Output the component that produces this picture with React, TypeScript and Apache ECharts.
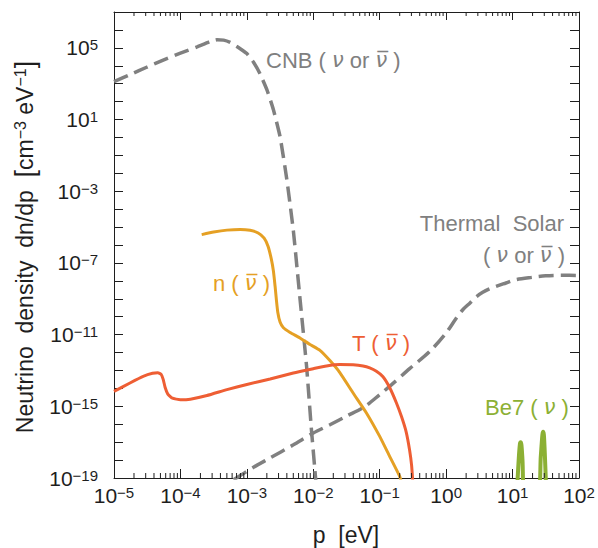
import React, { useEffect, useRef } from "react";
import * as echarts from "echarts";

// ---- data (p in eV, dn/dp in cm^-3 eV^-1) ----
const cnbP = [1.0e-5, 1.78e-5, 3.16e-5, 5.62e-5, 1.0e-4, 1.78e-4, 2.82e-4, 3.55e-4, 4.47e-4, 5.62e-4, 7.08e-4, 1.0e-3, 1.26e-3, 1.58e-3, 2.0e-3, 2.51e-3, 3.16e-3, 3.98e-3, 5.01e-3, 6.31e-3, 7.94e-3, 9.33e-3, 1.06e-2, 1.1e-2];
const cnbN = [1.29e3, 3.31e3, 8.51e3, 2.14e4, 5.01e4, 1.12e5, 2.24e5, 2.82e5, 2.69e5, 2.0e5, 1.2e5, 4.79e4, 1.58e4, 3.55e3, 4.68e2, 3.55e1, 1.12, 5.01e-3, 6.31e-6, 1.0e-9, 1.58e-13, 6.31e-17, 2.51e-19, 5.01e-20];

const nP = [2.09e-4, 3.16e-4, 5.01e-4, 7.94e-4, 1.12e-3, 1.48e-3, 1.82e-3, 2.09e-3, 2.34e-3, 2.51e-3, 2.66e-3, 2.79e-3, 2.92e-3, 3.16e-3, 3.55e-3, 4.47e-3, 6.31e-3, 8.91e-3, 1.26e-2, 1.78e-2, 2.51e-2, 3.98e-2, 6.31e-2, 1.0e-1, 1.41e-1, 2.0e-1, 2.14e-1];
const nN = [3.8e-6, 5.25e-6, 6.76e-6, 7.41e-6, 6.61e-6, 4.68e-6, 2.4e-6, 8.32e-7, 1.58e-7, 3.55e-8, 5.01e-9, 7.94e-10, 1.78e-10, 5.01e-11, 2.4e-11, 1.32e-11, 6.46e-12, 2.82e-12, 1.32e-12, 3.55e-13, 7.59e-14, 5.5e-15, 4.27e-16, 2.09e-17, 1.62e-18, 1.23e-19, 5.01e-20];

const tP = [1.0e-5, 1.74e-5, 2.75e-5, 3.8e-5, 4.57e-5, 5.13e-5, 5.5e-5, 5.89e-5, 6.46e-5, 7.59e-5, 1.0e-4, 1.41e-4, 2.51e-4, 5.01e-4, 1.0e-3, 2.24e-3, 5.01e-3, 1.0e-2, 1.58e-2, 2.51e-2, 3.98e-2, 5.62e-2, 7.08e-2, 8.91e-2, 1.12e-1, 1.41e-1, 1.78e-1, 2.14e-1, 2.51e-1, 2.82e-1, 3.02e-1, 3.16e-1];
const tN = [6.76e-15, 2.0e-14, 4.68e-14, 6.92e-14, 7.41e-14, 6.03e-14, 3.16e-14, 1.12e-14, 4.79e-15, 2.82e-15, 2.34e-15, 2.51e-15, 3.98e-15, 8.51e-15, 1.66e-14, 3.31e-14, 7.24e-14, 1.26e-13, 1.78e-13, 2.14e-13, 2.09e-13, 1.78e-13, 1.38e-13, 8.91e-14, 4.47e-14, 1.12e-14, 1.58e-15, 2.51e-16, 3.55e-17, 3.55e-18, 5.01e-19, 5.01e-20];

const solarP = [6.31e-4, 1.26e-3, 2.24e-3, 5.01e-3, 1.0e-2, 1.78e-2, 3.16e-2, 6.03e-2, 1.0e-1, 1.51e-1, 2.82e-1, 5.62e-1, 1.0, 1.41, 1.78, 2.29, 2.82, 3.55, 4.47, 5.62, 7.94, 11.2, 20.0, 31.6, 56.2, 100];
const solarN = [7.94e-20, 3.98e-19, 1.32e-18, 7.08e-18, 3.24e-17, 9.33e-17, 2.82e-16, 1.0e-15, 4.47e-15, 1.62e-14, 1.26e-13, 1.12e-12, 1.26e-11, 7.94e-11, 2.45e-10, 5.89e-10, 1.26e-9, 2.29e-9, 3.55e-9, 4.9e-9, 7.59e-9, 1.17e-8, 1.58e-8, 1.91e-8, 2.04e-8, 2.0e-8];

const be7P = [11.7, 12.4, 12.9, 13.2, 13.6, 14.1, 15.0, 24.5, 26.6, 28.1, 28.8, 29.6, 30.7, 32.0];
const be7N = [2.51e-20, 1.26e-18, 7.94e-18, 1.0e-17, 7.08e-18, 1.0e-18, 2.51e-20, 2.51e-20, 1.58e-18, 2.51e-17, 3.8e-17, 2.51e-17, 1.58e-18, 2.51e-20];

// axis decades (powers of ten)
const xDecades = [-5, -4, -3, -2, -1, 0, 1, 2];
const yLabelDecades = [-19, -15, -11, -7, -3, 1, 5];
const minorMultipliers = [2, 3, 4, 5, 6, 7, 8, 9];

const X_MIN = -5, X_MAX = 2, Y_MIN = -19, Y_MAX = 7;

const GRAY = "#808080";
const ORANGE = "#E5A024";
const RED = "#EE5E34";
const GREEN = "#8CB034";
const AX = "#1e1e1e";
const FONT = "Liberation Sans";
const NU_FONT = "DejaVu Sans";

const toLog = (ps: number[], ns: number[]) => ps.map((p, i) => [Math.log10(p), Math.log10(ns[i])]);

const supLabel = (v: number) => {
  const e = Math.round(v);
  return `{b|10}{s|${e < 0 ? "\u2212" + -e : e}}`;
};

const tickRich = {
  b: { fontSize: 21, lineHeight: 21, fontFamily: FONT, color: AX },
  s: { fontSize: 15, lineHeight: 15, verticalAlign: "top", fontFamily: FONT, color: AX },
};

const NU = "\u03BD";
const NUBAR = "\u03BD\u0305";

const nuRich = (c: string) => ({
  i: { fontStyle: "italic", fontSize: 21, fontFamily: NU_FONT, fill: c, color: c },
});

export default function App() {
  const ref = useRef<HTMLDivElement>(null);
  useEffect(() => {
    if (!ref.current) return;
    const chart = echarts.init(ref.current, undefined, { renderer: "svg" });

    const minorX: number[][] = [];
    xDecades.slice(0, -1).forEach((d) => minorMultipliers.forEach((m) => minorX.push([d + Math.log10(m), Y_MIN])));

    const lineBase = { type: "line", showSymbol: false, symbol: "none", silent: true, clip: true, smooth: 0.15 };
    const dashed = { color: GRAY, width: 3.5, type: [15, 7], cap: "butt" };

    const axisCommon = {
      type: "value",
      splitLine: { show: false },
      axisLine: { show: true, onZero: false, lineStyle: { color: AX, width: 1 } },
    };

    const option: any = {
      animation: false,
      backgroundColor: "#ffffff",
      grid: { left: 114, right: 19, top: 12, bottom: 70, containLabel: false, outerBoundsMode: "none" },
      xAxis: [
        {
          ...axisCommon, min: X_MIN, max: X_MAX, interval: 1, position: "bottom",
          axisTick: { show: true, inside: true, length: 9, lineStyle: { color: AX } },
          axisLabel: { show: true, margin: 7, formatter: supLabel, rich: tickRich, showMinLabel: true, showMaxLabel: true },
        },
        {
          ...axisCommon, min: X_MIN, max: X_MAX, interval: 1, position: "top",
          axisTick: { show: true, inside: true, length: 8, lineStyle: { color: AX } },
          axisLabel: { show: false },
        },
      ],
      yAxis: [
        {
          ...axisCommon, min: Y_MIN, max: Y_MAX, interval: 1, position: "left",
          axisTick: { show: true, inside: true, length: 9, lineStyle: { color: AX } },
          axisLabel: {
            show: true, margin: 16, rich: tickRich, showMinLabel: true, showMaxLabel: true,
            formatter: (v: number) => (yLabelDecades.includes(Math.round(v)) ? supLabel(v) : ""),
          },
        },
        {
          ...axisCommon, min: Y_MIN, max: Y_MAX, interval: 1, position: "right",
          axisTick: { show: true, inside: true, length: 9, lineStyle: { color: AX } },
          axisLabel: { show: false },
        },
      ],
      series: [
        {
          type: "custom", silent: true, clip: false, data: minorX, z: 5,
          renderItem: (_p: any, api: any) => {
            const x = api.value(0);
            const b = api.coord([x, Y_MIN]);
            const t = api.coord([x, Y_MAX]);
            const st = { stroke: AX, lineWidth: 1 };
            return {
              type: "group",
              children: [
                { type: "line", shape: { x1: b[0], y1: b[1], x2: b[0], y2: b[1] - 5 }, style: st },
                { type: "line", shape: { x1: t[0], y1: t[1], x2: t[0], y2: t[1] + 4 }, style: st },
              ],
            };
          },
        },
        { ...lineBase, name: "CNB", data: toLog(cnbP, cnbN), lineStyle: dashed },
        { ...lineBase, name: "Thermal Solar", smooth: 0.3, data: toLog(solarP, solarN), lineStyle: dashed },
        { ...lineBase, name: "n", data: toLog(nP, nN), lineStyle: { color: ORANGE, width: 3 } },
        { ...lineBase, name: "T", data: toLog(tP, tN), lineStyle: { color: RED, width: 3 } },
        { ...lineBase, name: "Be7", smooth: 0.3, data: toLog(be7P, be7N), lineStyle: { color: GREEN, width: 4 } },
      ],
      graphic: [
        {
          type: "text", x: 266, y: 60, silent: true,
          style: {
            text: `CNB ( {i|${NU}} or {i|${NUBAR}} )`, fill: GRAY, fontSize: 22, fontFamily: FONT,
            align: "left", verticalAlign: "middle", rich: nuRich(GRAY),
          },
        },
        {
          type: "text", x: 564, y: 223, silent: true,
          style: { text: "Thermal  Solar", fill: GRAY, fontSize: 22, fontFamily: FONT, align: "right", verticalAlign: "middle" },
        },
        {
          type: "text", x: 565, y: 255, silent: true,
          style: {
            text: `( {i|${NU}} or {i|${NUBAR}} )`, fill: GRAY, fontSize: 22, fontFamily: FONT,
            align: "right", verticalAlign: "middle", rich: nuRich(GRAY),
          },
        },
        {
          type: "text", x: 213, y: 283, silent: true,
          style: {
            text: `n ( {i|${NUBAR}} )`, fill: ORANGE, fontSize: 22, fontFamily: FONT, align: "left", verticalAlign: "middle",
            rich: nuRich(ORANGE),
          },
        },
        {
          type: "text", x: 352, y: 343, silent: true,
          style: {
            text: `T ( {i|${NUBAR}} )`, fill: RED, fontSize: 22, fontFamily: FONT, align: "left", verticalAlign: "middle",
            rich: nuRich(RED),
          },
        },
        {
          type: "text", x: 485, y: 407, silent: true,
          style: {
            text: `Be7 ( {i|${NU}} )`, fill: GREEN, fontSize: 22, fontFamily: FONT, align: "left", verticalAlign: "middle",
            rich: nuRich(GREEN),
          },
        },
        {
          type: "text", x: 346, y: 535, silent: true,
          style: { text: "p  [eV]", fill: AX, fontSize: 23, fontFamily: FONT, align: "center", verticalAlign: "middle" },
        },
        {
          type: "text", x: 25, y: 247, rotation: Math.PI / 2, silent: true,
          style: {
            text: "Neutrino  density  dn/dp  {br|[}cm{s|\u22123} eV{s|\u22121}{br|]}",
            fill: AX, fontSize: 23, lineHeight: 25, fontFamily: FONT, align: "center", verticalAlign: "middle",
            rich: {
              s: { fontSize: 16, lineHeight: 16, verticalAlign: "top", fontFamily: FONT, fill: AX, color: AX },
              br: { fontSize: 27, lineHeight: 25, fontFamily: FONT, fill: AX, color: AX },
            },
          },
        },
      ],
    };

    chart.setOption(option);
    return () => chart.dispose();
  }, []);

  return (
    <div
      ref={ref}
      style={{ position: "fixed", left: 0, top: 0, width: 598, height: 548, background: "#fff" }}
    />
  );
}
